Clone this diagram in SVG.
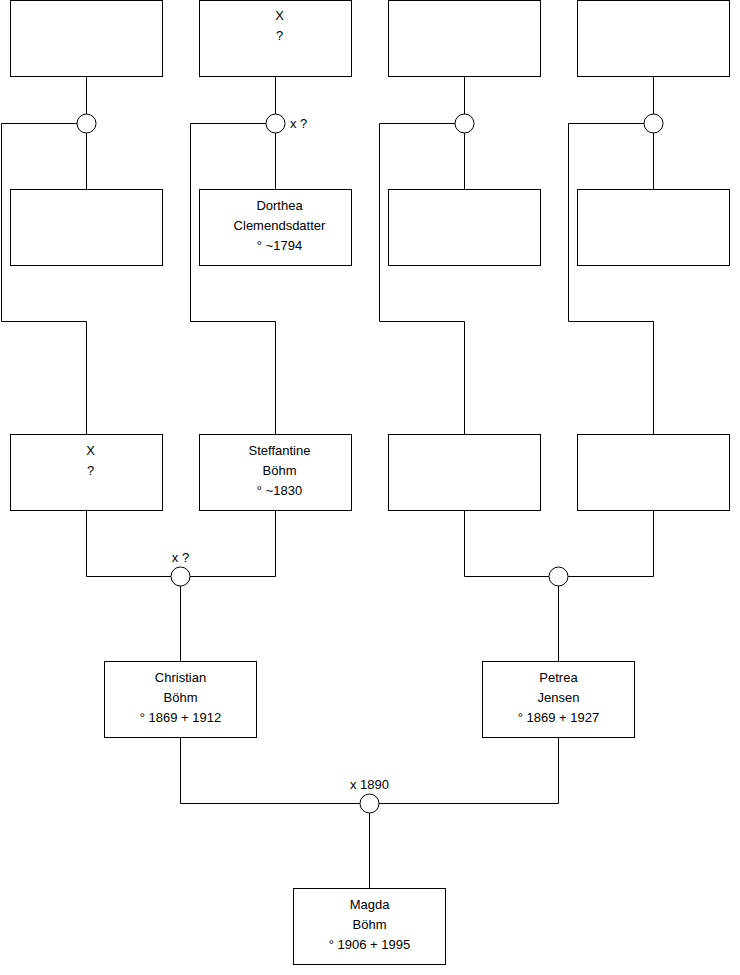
<svg xmlns="http://www.w3.org/2000/svg" width="740" height="975" viewBox="0 0 740 975">
<style>
.box{fill:#fff;stroke:#000;stroke-width:1}
.ln{fill:none;stroke:#000;stroke-width:1}
.ci{fill:#fff;stroke:#000;stroke-width:1}
text{font-family:"Liberation Sans",Arial,sans-serif;font-size:13px;fill:#000;text-anchor:middle}
.lbl{text-anchor:start}
</style>
<rect width="740" height="975" fill="#fff"/>
<g id="connectors">
<path class="ln" d="M86.5 76.5V189.5"/>
<path class="ln" d="M275.5 76.5V189.5"/>
<path class="ln" d="M464.5 76.5V189.5"/>
<path class="ln" d="M653.5 76.5V189.5"/>
<path class="ln" d="M77 123.5H1.5V321.5H86.5V434.5"/>
<path class="ln" d="M266 123.5H190.5V321.5H275.5V434.5"/>
<path class="ln" d="M455 123.5H379.5V321.5H464.5V434.5"/>
<path class="ln" d="M644 123.5H568.5V321.5H653.5V434.5"/>
<path class="ln" d="M86.5 510.5V576.5H275.5V510.5"/>
<path class="ln" d="M464.5 510.5V576.5H653.5V510.5"/>
<path class="ln" d="M180.5 576.5V661.5"/>
<path class="ln" d="M558.5 576.5V661.5"/>
<path class="ln" d="M180.5 737.5V803.5H558.5V737.5"/>
<path class="ln" d="M369.5 803.5V888.5"/>
<circle class="ci" cx="86.5" cy="123.5" r="9.5"/>
<circle class="ci" cx="275.5" cy="123.5" r="9.5"/>
<circle class="ci" cx="464.5" cy="123.5" r="9.5"/>
<circle class="ci" cx="653.5" cy="123.5" r="9.5"/>
<circle class="ci" cx="180.5" cy="576.5" r="9.5"/>
<circle class="ci" cx="558.5" cy="576.5" r="9.5"/>
<circle class="ci" cx="369.5" cy="803.5" r="9.5"/>
<text class="lbl" x="290" y="128">x ?</text>
<text x="180.5" y="562">x ?</text>
<text x="369.5" y="789">x 1890</text>
</g>
<g id="n1"><rect class="box" x="10.5" y="0.5" width="152" height="76"/></g>
<g id="n2"><rect class="box" x="199.5" y="0.5" width="152" height="76"/><text x="279.5" y="20">X</text><text x="279.5" y="40">?</text></g>
<g id="n3"><rect class="box" x="388.5" y="0.5" width="152" height="76"/></g>
<g id="n4"><rect class="box" x="577.5" y="0.5" width="152" height="76"/></g>
<g id="n5"><rect class="box" x="10.5" y="189.5" width="152" height="76"/></g>
<g id="n6"><rect class="box" x="199.5" y="189.5" width="152" height="76"/><text x="279.5" y="210">Dorthea</text><text x="279.5" y="230">Clemendsdatter</text><text x="279.5" y="250">° ~1794</text></g>
<g id="n7"><rect class="box" x="388.5" y="189.5" width="152" height="76"/></g>
<g id="n8"><rect class="box" x="577.5" y="189.5" width="152" height="76"/></g>
<g id="n9"><rect class="box" x="10.5" y="434.5" width="152" height="76"/><text x="90.5" y="455">X</text><text x="90.5" y="475">?</text></g>
<g id="n10"><rect class="box" x="199.5" y="434.5" width="152" height="76"/><text x="279.5" y="455">Steffantine</text><text x="279.5" y="475">Böhm</text><text x="279.5" y="495">° ~1830</text></g>
<g id="n11"><rect class="box" x="388.5" y="434.5" width="152" height="76"/></g>
<g id="n12"><rect class="box" x="577.5" y="434.5" width="152" height="76"/></g>
<g id="n13"><rect class="box" x="104.5" y="661.5" width="152" height="76"/><text x="180.5" y="682">Christian</text><text x="180.5" y="702">Böhm</text><text x="180.5" y="722">° 1869 + 1912</text></g>
<g id="n14"><rect class="box" x="482.5" y="661.5" width="152" height="76"/><text x="558.5" y="682">Petrea</text><text x="558.5" y="702">Jensen</text><text x="558.5" y="722">° 1869 + 1927</text></g>
<g id="n15"><rect class="box" x="293.5" y="888.5" width="152" height="76"/><text x="369.5" y="909">Magda</text><text x="369.5" y="929">Böhm</text><text x="369.5" y="949">° 1906 + 1995</text></g>
</svg>
